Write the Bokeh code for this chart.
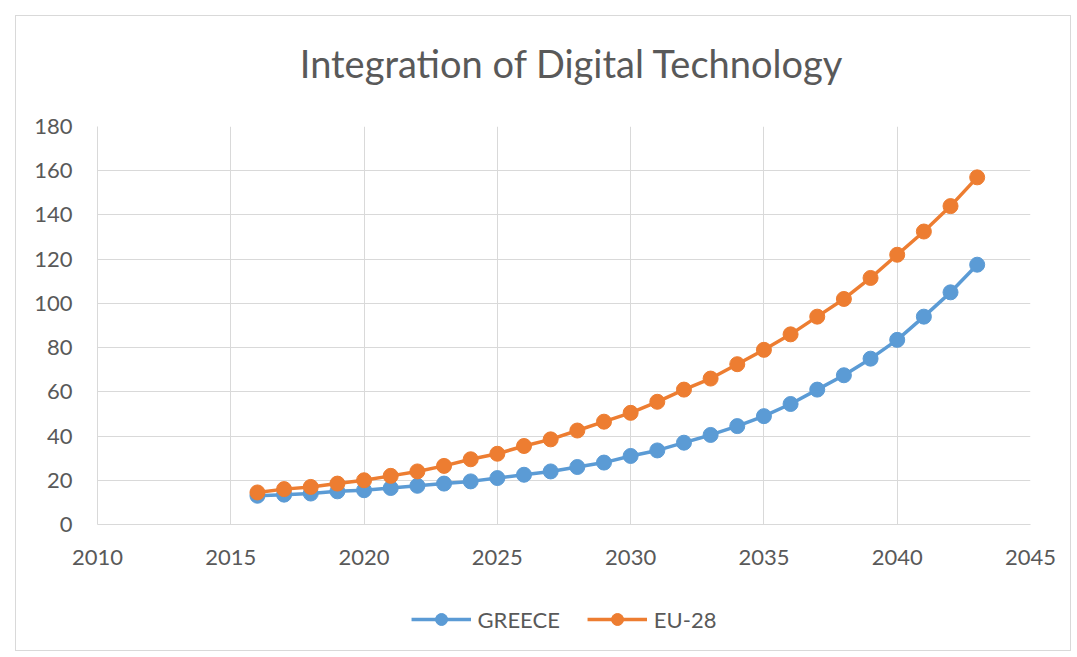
from bokeh.plotting import figure
from bokeh.layouts import column
from bokeh.models import Legend, LegendItem, SingleIntervalTicker, Range1d, Label
from bokeh.embed import file_html
from bokeh.resources import INLINE

years = list(range(2016, 2044))
greece = [13, 13.5, 14, 15, 15.5, 16.5, 17.5, 18.5, 19.5, 21, 22.5, 24, 26, 28,
          31, 33.5, 37, 40.5, 44.5, 49, 54.5, 61, 67.5, 75, 83.5, 94, 105, 117.5]
eu28 = [14.5, 16, 17, 18.5, 20, 22, 24, 26.5, 29.5, 32, 35.5, 38.5, 42.5, 46.5,
        50.5, 55.5, 61, 66, 72.5, 79, 86, 94, 102, 111.5, 122, 132.5, 144, 157]
title_text = "Integration of Digital Technology"
series_names = ["GREECE", "EU-28"]

FONT = "Lato"
GRAY = "#595959"
GRID = "#d9d9d9"
BLUE = "#5B9BD5"
ORANGE = "#ED7D31"
W = 1054

def strip(height, top=0):
    f = figure(width=W, height=height, output_backend="svg", toolbar_location=None,
               x_range=Range1d(0, W), y_range=Range1d(0, height),
               x_axis_type=None, y_axis_type=None,
               min_border_left=0, min_border_right=0, min_border_top=top, min_border_bottom=0)
    f.outline_line_color = None
    f.xgrid.visible = False
    f.ygrid.visible = False
    return f

# title strip
tf = strip(90)
tf.add_layout(Label(x=536, y=44, text=title_text, text_font=FONT, text_font_size="38px",
                    text_color=GRAY, text_align="center", text_baseline="middle"))

# main chart
p = figure(width=W, height=474, output_backend="svg", toolbar_location=None,
           x_range=Range1d(2010, 2045), y_range=Range1d(0, 180),
           min_border_left=81, min_border_right=40, min_border_top=20, min_border_bottom=56)
p.outline_line_color = None

for ax in (p.xaxis[0], p.yaxis[0]):
    ax.axis_line_color = GRID
    ax.major_tick_line_color = None
    ax.minor_tick_line_color = None
    ax.major_label_text_font = FONT
    ax.major_label_text_font_size = "22px"
    ax.major_label_text_color = GRAY
    ax.major_label_standoff = 19

p.xaxis[0].ticker = SingleIntervalTicker(interval=5)
p.yaxis[0].ticker = SingleIntervalTicker(interval=20)
p.xgrid.grid_line_color = GRID
p.ygrid.grid_line_color = GRID
p.xgrid.ticker = SingleIntervalTicker(interval=5)
p.ygrid.ticker = SingleIntervalTicker(interval=20)

series = [(series_names[0], greece, BLUE), (series_names[1], eu28, ORANGE)]
for name, vals, col in series:
    p.line(years, vals, line_color=col, line_width=3.5)
    p.scatter(years, vals, size=15, fill_color=col, line_color=col)

# legend strip (its renderers lie outside its view, only the legend shows)
lf = figure(width=W, height=70, output_backend="svg", toolbar_location=None,
            x_range=Range1d(0, 1), y_range=Range1d(0, 1),
            x_axis_type=None, y_axis_type=None,
            min_border_left=81, min_border_right=40, min_border_top=8, min_border_bottom=0)
lf.outline_line_color = None
lf.xgrid.visible = False
lf.ygrid.visible = False
items = []
for name, vals, col in series:
    l = lf.line(years, vals, line_color=col, line_width=3.5)
    s = lf.scatter(years, vals, size=15, fill_color=col, line_color=col)
    items.append(LegendItem(label=name, renderers=[l, s]))

legend = Legend(items=items, orientation="horizontal", location="center",
                label_text_font=FONT, label_text_font_size="22px", label_text_color=GRAY,
                glyph_width=60, glyph_height=30, spacing=27, label_standoff=7,
                border_line_color=None, background_fill_alpha=0, margin=0, padding=0)
lf.add_layout(legend)

layout = column(tf, p, lf, spacing=0)
layout.margin = (15, 0, 0, 15)
layout.styles = {"border": "1px solid #d9d9d9"}
open("out.html", "w").write(file_html(layout, INLINE))
